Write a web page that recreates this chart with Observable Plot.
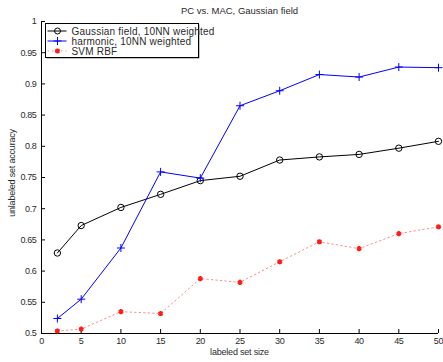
<!DOCTYPE html>
<html><head><meta charset="utf-8">
<script src="https://cdn.jsdelivr.net/npm/d3@7"></script>
<script src="https://cdn.jsdelivr.net/npm/@observablehq/plot@0.6"></script>
<style>body{margin:0;background:#fff}svg{display:block}</style>
</head><body><div id="chart"></div>
<script>
const xs = [2, 5, 10, 15, 20, 25, 30, 35, 40, 45, 50];
const gaussian = [0.629, 0.673, 0.702, 0.723, 0.745, 0.752, 0.778, 0.783, 0.787, 0.797, 0.808];
const harmonic = [0.524, 0.555, 0.637, 0.759, 0.749, 0.865, 0.889, 0.915, 0.911, 0.927, 0.926];
const svm = [0.504, 0.507, 0.535, 0.532, 0.588, 0.582, 0.615, 0.647, 0.636, 0.660, 0.671];
const seriesNames = ["Gaussian field, 10NN weighted", "harmonic, 10NN weighted", "SVM RBF"];
const xTicks = [0, 5, 10, 15, 20, 25, 30, 35, 40, 45, 50];
const yTicks = [0.5, 0.55, 0.6, 0.65, 0.7, 0.75, 0.8, 0.85, 0.9, 0.95, 1];
const titleText = "PC vs. MAC, Gaussian field";
const xLabel = "labeled set size";
const yLabel = "unlabeled set accuracy";

const rows = (vals) => xs.map((x, i) => ({x, y: vals[i]}));
const G = rows(gaussian), H = rows(harmonic), S = rows(svm);

const plusSym = {draw(ctx, size) { const r = Math.sqrt(size / Math.PI); ctx.moveTo(-r, 0); ctx.lineTo(r, 0); ctx.moveTo(0, -r); ctx.lineTo(0, r); }};

const W = 443, Hh = 362, mL = 41, mR = 5, mT = 21, mB = 29;
const chart = Plot.plot({
  width: W, height: Hh, marginLeft: mL, marginRight: mR, marginTop: mT, marginBottom: mB,
  x: {domain: [0, 50]},
  y: {domain: [0.5, 1]},
  style: {fontFamily: "Liberation Sans, Arial, sans-serif", fontSize: "9px", letterSpacing: "-0.35px", color: "#2a2a2a", background: "#fff"},
  marks: [
    Plot.axisX({ticks: xTicks, tickSize: -4, tickPadding: 8, tickFormat: d => String(d), label: null, stroke: "#000"}),
    Plot.axisY({ticks: yTicks, tickSize: -4, tickPadding: 9, tickFormat: d => String(+d.toFixed(2)), label: null, stroke: "#000"}),
    Plot.ruleY([0.5], {stroke: "#000", strokeWidth: 1}),
    Plot.ruleX([0], {stroke: "#000", strokeWidth: 1}),
    Plot.line(S, {x: "x", y: "y", stroke: "#ff3030", strokeOpacity: 0.55, strokeWidth: 1, strokeDasharray: "1.5,3"}),
    Plot.dot(S, {x: "x", y: "y", symbol: "asterisk", stroke: "#ff1a1a", strokeWidth: 2, r: 2.4}),
    Plot.line(G, {x: "x", y: "y", stroke: "#000", strokeWidth: 1}),
    Plot.dot(G, {x: "x", y: "y", symbol: "circle", stroke: "#000", fill: "none", strokeWidth: 1, r: 3.2}),
    Plot.line(H, {x: "x", y: "y", stroke: "#0000ff", strokeWidth: 1}),
    Plot.dot(H, {x: "x", y: "y", symbol: plusSym, stroke: "#0000ff", strokeWidth: 1, r: 4})
  ]
});
document.getElementById("chart").appendChild(chart);

const svg = d3.select(chart);
const font = "Liberation Sans, Arial, sans-serif";
svg.append("text").attr("x", mL + (W - mL - mR) / 2).attr("y", 14).attr("text-anchor", "middle").attr("letter-spacing", "0")
  .attr("font-family", font).attr("font-size", 9.5).attr("fill", "#2a2a2a").text(titleText);
svg.append("text").attr("x", mL + (W - mL - mR) / 2).attr("y", 355).attr("text-anchor", "middle").attr("letter-spacing", "-0.2px")
  .attr("font-family", font).attr("font-size", 9).attr("fill", "#2a2a2a").text(xLabel);
svg.append("text").attr("transform", `translate(15,173) rotate(-90)`).attr("text-anchor", "middle").attr("letter-spacing", "-0.2px")
  .attr("font-family", font).attr("font-size", 9).attr("fill", "#2a2a2a").text(yLabel);

// legend
const lg = svg.append("g").attr("transform", "translate(45.5,23.5)");
lg.append("rect").attr("x", 1).attr("y", 1).attr("width", 153).attr("height", 34).attr("fill", "#888").attr("stroke", "none");
lg.append("rect").attr("width", 153).attr("height", 34).attr("fill", "#fff").attr("stroke", "#000").attr("stroke-width", 1);
const styles = [
  {stroke: "#000", dash: null, op: 1, sym: "circle"},
  {stroke: "#0000ff", dash: null, op: 1, sym: "plus"},
  {stroke: "#ff3030", dash: "1.5,3", op: 0.55, sym: "star"}
];
seriesNames.forEach((name, i) => {
  const y = 7.5 + i * 10;
  const s = styles[i];
  const row = lg.append("g");
  row.append("line").attr("x1", 2).attr("x2", 21).attr("y1", y).attr("y2", y)
    .attr("stroke", s.stroke).attr("stroke-opacity", s.op).attr("stroke-dasharray", s.dash);
  if (s.sym === "circle") row.append("circle").attr("cx", 12).attr("cy", y).attr("r", 3).attr("fill", "none").attr("stroke", "#000");
  else if (s.sym === "plus") row.append("path").attr("d", `M8,${y}H16M12,${y - 4}V${y + 4}`).attr("stroke", "#0000ff").attr("fill", "none");
  else row.append("path").attr("d", d3.symbol(d3.symbolAsterisk, 18)()).attr("transform", `translate(12,${y})`).attr("stroke", "#ff1a1a").attr("stroke-width", 2).attr("fill", "none");
  row.append("text").attr("x", 26).attr("y", y + 3.5).attr("text-anchor", "start").attr("letter-spacing", "0.2px").attr("font-family", font).attr("font-size", 10).attr("fill", "#2a2a2a").text(name);
});
</script></body></html>
